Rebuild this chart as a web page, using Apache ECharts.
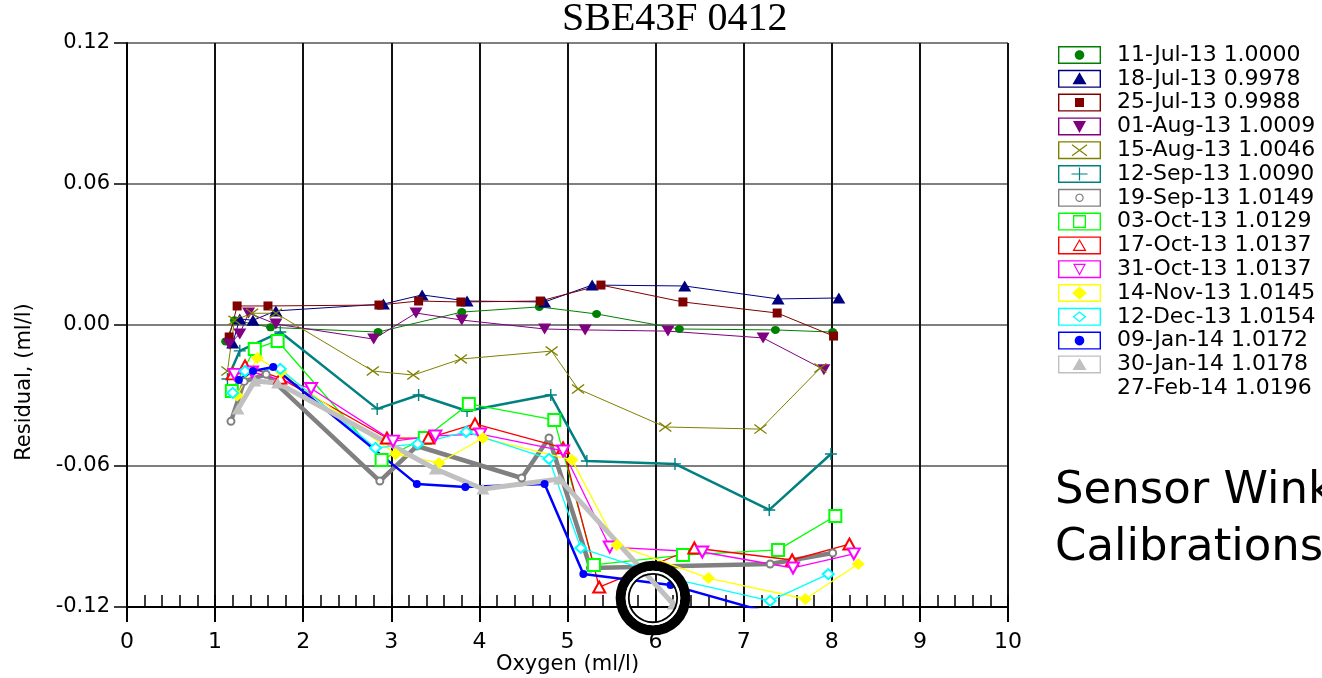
<!DOCTYPE html>
<html><head><meta charset="utf-8">
<script src="https://cdn.jsdelivr.net/npm/echarts@6/dist/echarts.min.js"></script>
<style>html,body{margin:0;padding:0;background:#fff;overflow:hidden}#c{width:1322px;height:678px}</style>
</head><body><div id="c"></div>
<script>
// ---------- text ----------
const TITLE = 'SBE43F 0412';
const X_NAME = 'Oxygen (ml/l)';
const Y_NAME = 'Residual, (ml/l)';
const NOTE_LINES = ['Sensor Winkler', 'Calibrations'];
// ---------- axes ----------
const X_MIN = 0, X_MAX = 10, X_STEP = 1, X_MINOR_STEP = 0.2;
const Y_MIN = -0.12, Y_MAX = 0.12, Y_STEP = 0.06;
// ---------- data: [oxygen, residual] ----------
const s11Jul = [[1.12,-0.007],[1.22,0.002],[1.63,-0.001],[2.85,-0.003],[3.80,0.0055],[4.68,0.0077],[5.33,0.0047],[6.27,-0.0017],[7.36,-0.0021],[8.01,-0.003]];
const s18Jul = [[1.20,-0.0077],[1.28,0.0026],[1.43,0.002],[1.69,0.006],[2.91,0.0089],[3.35,0.0128],[3.86,0.0102],[4.74,0.0098],[5.28,0.017],[6.33,0.0166],[7.39,0.0111],[8.08,0.0115]];
const s25Jul = [[1.16,-0.0051],[1.25,0.0081],[1.60,0.0081],[2.86,0.0085],[3.31,0.0102],[3.79,0.0098],[4.69,0.0102],[5.38,0.017],[6.31,0.0098],[7.38,0.0051],[8.02,-0.0047]];
const s01Aug = [[1.16,-0.0081],[1.28,-0.0038],[1.38,0.0051],[1.69,0.0004],[2.80,-0.006],[3.28,0.0051],[3.80,0.0021],[4.74,-0.0017],[5.20,-0.0021],[6.14,-0.0026],[7.22,-0.0055],[7.91,-0.019]];
const s15Aug = [[1.14,-0.0196],[1.22,0.002],[1.42,0.005],[1.69,0.005],[2.79,-0.0196],[3.25,-0.0213],[3.79,-0.0145],[4.82,-0.0111],[5.12,-0.0272],[6.11,-0.0434],[7.19,-0.0443],[7.87,-0.0183]];
const s12Sep = [[1.14,-0.023],[1.28,-0.011],[1.74,-0.003],[2.84,-0.0357],[3.31,-0.0298],[3.86,-0.0366],[4.81,-0.0298],[5.22,-0.0579],[6.22,-0.0591],[7.29,-0.0787],[7.99,-0.0549]];
const s19Sep = [[1.18,-0.041],[1.33,-0.024],[1.58,-0.021],[2.87,-0.0664],[3.29,-0.0515],[4.48,-0.0651],[4.79,-0.0481],[5.26,-0.1034],[7.30,-0.1017],[8.01,-0.097]];
const s03Oct = [[1.19,-0.0281],[1.45,-0.0102],[1.71,-0.0068],[2.89,-0.0574],[3.38,-0.0481],[3.88,-0.0336],[4.85,-0.0404],[5.30,-0.1021],[6.31,-0.0979],[7.39,-0.0957],[8.04,-0.0813]];
const s17Oct = [[1.20,-0.0208],[1.34,-0.0174],[1.74,-0.0226],[2.95,-0.0481],[3.42,-0.0481],[3.95,-0.0421],[4.95,-0.0523],[5.36,-0.1115],[6.44,-0.0949],[7.55,-0.1000],[8.20,-0.0932]];
const s31Oct = [[1.22,-0.021],[1.42,-0.020],[2.09,-0.027],[3.02,-0.0494],[3.50,-0.0472],[4.01,-0.0464],[4.95,-0.0536],[5.48,-0.0945],[6.53,-0.0966],[7.56,-0.1034],[8.25,-0.0974]];
const s14Nov = [[1.25,-0.030],[1.48,-0.014],[1.75,-0.020],[3.05,-0.0549],[3.54,-0.0587],[4.04,-0.0481],[5.05,-0.0574],[5.56,-0.0936],[6.60,-0.1077],[7.70,-0.1166],[8.30,-0.1017]];
const s12Dec = [[1.20,-0.0289],[1.34,-0.0196],[1.74,-0.0187],[2.82,-0.0523],[3.30,-0.0506],[3.85,-0.0455],[4.79,-0.057],[5.15,-0.0949],[6.20,-0.108],[7.30,-0.1174],[7.96,-0.106]];
const s09Jan = [[1.27,-0.0234],[1.43,-0.0196],[1.66,-0.0179],[3.29,-0.0677],[3.84,-0.0689],[4.74,-0.0677],[5.18,-0.106],[6.17,-0.1106],[7.25,-0.122]];
const s30Jan = [[1.26,-0.0357],[1.45,-0.0238],[1.71,-0.0247],[3.50,-0.0613],[4.04,-0.0698],[4.91,-0.0655],[6.20,-0.1187]];
const s27Feb = [];
const SERIES_NAMES = ['11-Jul-13 1.0000','18-Jul-13 0.9978','25-Jul-13 0.9988','01-Aug-13 1.0009','15-Aug-13 1.0046','12-Sep-13 1.0090','19-Sep-13 1.0149','03-Oct-13 1.0129','17-Oct-13 1.0137','31-Oct-13 1.0137','14-Nov-13 1.0145','12-Dec-13 1.0154','09-Jan-14 1.0172','30-Jan-14 1.0178','27-Feb-14 1.0196'];
const SERIES_DATA = [s11Jul,s18Jul,s25Jul,s01Aug,s15Aug,s12Sep,s19Sep,s03Oct,s17Oct,s31Oct,s14Nov,s12Dec,s09Jan,s30Jan,s27Feb];
// annotation ring centre (data units)
const ANNOT_CENTER = [5.97, -0.1162];

// ---------- shape helpers ----------
function area(p){let a=0;for(let i=0;i<p.length;i++){const q=p[(i+1)%p.length];a+=p[i][0]*q[1]-q[0]*p[i][1];}return a;}
function poly(p,cw){ if((area(p)>0)!==cw) p=p.slice().reverse(); return 'M'+p.map(v=>v[0].toFixed(2)+' '+v[1].toFixed(2)).join('L')+'Z'; }
function circ(cx,cy,r,n){const p=[];for(let i=0;i<n;i++){const a=2*Math.PI*i/n;p.push([cx+r*Math.cos(a),cy+r*Math.sin(a)]);}return p;}
function scl(p,cx,cy,k){return p.map(v=>[cx+(v[0]-cx)*k, cy+(v[1]-cy)*k]);}
function bar(x1,y1,x2,y2,h){const dx=x2-x1,dy=y2-y1,L=Math.hypot(dx,dy),nx=-dy/L*h,ny=dx/L*h;return [[x1+nx,y1+ny],[x2+nx,y2+ny],[x2-nx,y2-ny],[x1-nx,y1-ny]];}
function ring(p,cx,cy,k){return poly(p,true)+poly(scl(p,cx,cy,k),false);}

function legendIcon(kind){
  if(kind==='none') return 'none';
  const W=43,H=18,T=1.4,cx=21.5,cy=9;
  let d = poly([[0,0],[W,0],[W,H],[0,H]],true)+poly([[T,T],[W-T,T],[W-T,H-T],[T,H-T]],false);
  const tri=[[cx,cy-6.5],[cx+7,cy+5.5],[cx-7,cy+5.5]];
  const triD=[[cx-6.5,cy-5.5],[cx+6.5,cy-5.5],[cx,cy+6.5]];
  switch(kind){
    case 'dot': d+=poly(circ(cx,cy,4.8,28),true);break;
    case 'dotO': d+=ring(circ(cx,cy,4.2,28),cx,cy,0.72);break;
    case 'tri': d+=poly(tri,true);break;
    case 'triO': d+=ring(tri,cx,cy+1.5,0.7);break;
    case 'triD': d+=poly(triD,true);break;
    case 'triDO': d+=ring(triD,cx,cy-1.5,0.7);break;
    case 'sq': d+=poly([[cx-4.5,cy-4.5],[cx+4.5,cy-4.5],[cx+4.5,cy+4.5],[cx-4.5,cy+4.5]],true);break;
    case 'sqO': d+=ring([[cx-6.5,cy-6.5],[cx+6.5,cy-6.5],[cx+6.5,cy+6.5],[cx-6.5,cy+6.5]],cx,cy,0.8);break;
    case 'dia': d+=poly([[cx,cy-6.5],[cx+7.5,cy],[cx,cy+6.5],[cx-7.5,cy]],true);break;
    case 'diaO': d+=ring([[cx,cy-5.5],[cx+7,cy],[cx,cy+5.5],[cx-7,cy]],cx,cy,0.7);break;
    case 'x': d+=poly(bar(cx-7.5,cy-5.5,cx+7.5,cy+5.5,0.6),true)+poly(bar(cx-7.5,cy+5.5,cx+7.5,cy-5.5,0.6),true);break;
    case 'plus': d+=poly(bar(cx-8,cy,cx+8,cy,0.6),true)+poly(bar(cx,cy-6.5,cx,cy+6.5,0.6),true);break;
  }
  return 'path://'+d;
}
const SYM_X = 'path://'+poly(bar(0,0,12,10,0.7),true)+poly(bar(0,10,12,0,0.7),true);
const SYM_PLUS = 'path://'+poly(bar(0,5,12,5,0.7),true)+poly(bar(6,-1,6,11,0.7),true);

// ---------- styles (index-aligned with the series) ----------
const STYLES = [
  {color:'#008000', symbol:'circle',        size:[9,8],   rot:0,   lw:1,   bw:0,   icon:'dot'},
  {color:'#000080', symbol:'triangle',      size:[13,11], rot:0,   lw:1,   bw:0,   icon:'tri'},
  {color:'#800000', symbol:'rect',          size:[9,9],   rot:0,   lw:1,   bw:0,   icon:'sq'},
  {color:'#800080', symbol:'triangle',      size:[13,11], rot:180, lw:1,   bw:0,   icon:'triD'},
  {color:'#808000', symbol:SYM_X,           size:[13,10], rot:0,   lw:1,   bw:0,   icon:'x'},
  {color:'#008080', symbol:SYM_PLUS,        size:[12,12], rot:0,   lw:2.5, bw:0,   icon:'plus'},
  {color:'#808080', symbol:'emptyCircle',   size:7,       rot:0,   lw:4.5, bw:1,   icon:'dotO'},
  {color:'#00FF00', symbol:'emptyRect',     size:12,      rot:0,   lw:1.3, bw:1.3, icon:'sqO'},
  {color:'#FF0000', symbol:'emptyTriangle', size:[12,11], rot:0,   lw:1.3, bw:1.3, icon:'triO'},
  {color:'#FF00FF', symbol:'emptyTriangle', size:[12,11], rot:180, lw:1.3, bw:1.3, icon:'triDO'},
  {color:'#FFFF00', symbol:'diamond',       size:[13,12], rot:0,   lw:1.3, bw:0,   icon:'dia'},
  {color:'#00FFFF', symbol:'emptyDiamond',  size:[11,10], rot:0,   lw:1.3, bw:1.3, icon:'diaO'},
  {color:'#0000FF', symbol:'circle',        size:8,       rot:0,   lw:2.5, bw:0,   icon:'dot'},
  {color:'#C0C0C0', symbol:'triangle',      size:[13,11], rot:0,   lw:5,   bw:0,   icon:'tri'},
  {color:'#FFFFFF', symbol:'none',          size:1,       rot:0,   lw:0,   bw:0,   icon:'none'}
];

const FONT = 'DejaVu Sans';
const chart = echarts.init(document.getElementById('c'), null, {renderer:'canvas'});

const lineSeries = SERIES_NAMES.map((name,i)=>{
  const st = STYLES[i];
  return {
    type:'line', name, data:SERIES_DATA[i], xAxisIndex:0, yAxisIndex:0,
    symbol:st.symbol, symbolSize:st.size, symbolRotate:st.rot, symbolKeepAspect:false,
    showSymbol:true, showAllSymbol:true, smooth:false, clip:true,
    color:st.color,
    lineStyle:{color:st.color, width:st.lw, opacity: st.lw?1:0},
    itemStyle:{color:st.color, borderColor:st.color, borderWidth:st.bw},
    emphasis:{disabled:true}, silent:true, animation:false
  };
});

const ringSeries = [
  {size:64.6, bw:10, col:'#000'},
  {size:52.2, bw:2.4, col:'#fff'},
  {size:48.4, bw:1.8, col:'#000'}
].map(r=>({
  type:'scatter', xAxisIndex:0, yAxisIndex:0, data:[ANNOT_CENTER], symbol:'circle', symbolSize:r.size,
  itemStyle:{color:'rgba(0,0,0,0)', borderColor:r.col, borderWidth:r.bw, opacity:1},
  silent:true, clip:false, z:10, animation:false, emphasis:{disabled:true}
}));

chart.setOption({
  backgroundColor:'#fff',
  animation:false,
  title:{
    text:TITLE, left:562, top:-1, padding:0,
    textStyle:{fontFamily:'Liberation Serif', fontSize:40, fontWeight:'normal', color:'#000'}
  },
  grid:{left:127, right:314, top:43, bottom:71, containLabel:false, outerBoundsMode:'none', show:false},
  legend:{
    orient:'vertical', left:1058, top:44, itemWidth:43, itemHeight:18, itemGap:1.8,
    selectedMode:false, padding:0,
    textStyle:{fontFamily:FONT, fontSize:22, color:'#000', lineHeight:18, padding:[0,0,0,11]},
    itemStyle:{borderWidth:0},
    data:SERIES_NAMES.map((name,i)=>({name, icon:legendIcon(STYLES[i].icon), itemStyle:{color:STYLES[i].color, borderWidth:0, opacity:1}}))
  },
  xAxis:[{
    type:'value', min:X_MIN, max:X_MAX, interval:X_STEP, position:'bottom',
    name:X_NAME, nameLocation:'middle', nameGap:47, nameMoveOverlap:false,
    nameTextStyle:{fontFamily:FONT, fontSize:21, color:'#000'},
    axisLine:{show:true, onZero:false, lineStyle:{color:'#000', width:2}},
    axisTick:{show:true, inside:false, length:15, lineStyle:{color:'#000', width:2}},
    axisLabel:{show:true, fontFamily:FONT, fontSize:22, color:'#000', margin:24},
    splitLine:{show:true, lineStyle:{color:'#111', width:2}}
  },{
    type:'value', min:X_MIN, max:X_MAX, interval:X_MINOR_STEP, position:'bottom', offset:0,
    axisLine:{show:false, onZero:false}, axisLabel:{show:false}, splitLine:{show:false},
    axisTick:{show:true, inside:true, length:12, lineStyle:{color:'#000', width:1.5}}
  }],
  yAxis:{
    type:'value', min:Y_MIN, max:Y_MAX, interval:Y_STEP,
    name:Y_NAME, nameLocation:'middle', nameGap:92, nameRotate:90, nameMoveOverlap:false,
    nameTextStyle:{fontFamily:FONT, fontSize:21, color:'#000', padding:[0,114,0,0]},
    axisLine:{show:true, onZero:false, lineStyle:{color:'#000', width:2}},
    axisTick:{show:true, inside:false, length:13, lineStyle:{color:'#000', width:1.5}},
    axisLabel:{formatter:v=>v.toFixed(2), fontFamily:FONT, fontSize:21, color:'#000', margin:17},
    splitLine:{show:true, lineStyle:{color:'#555', width:1.5}}
  },
  graphic:[{
    type:'text', x:1055, y:463, silent:true,
    style:{text:NOTE_LINES.join('\n'), font:'45px "DejaVu Sans"', fill:'#000', lineHeight:57}
  }],
  series: lineSeries.concat(ringSeries)
});
</script></body></html>
